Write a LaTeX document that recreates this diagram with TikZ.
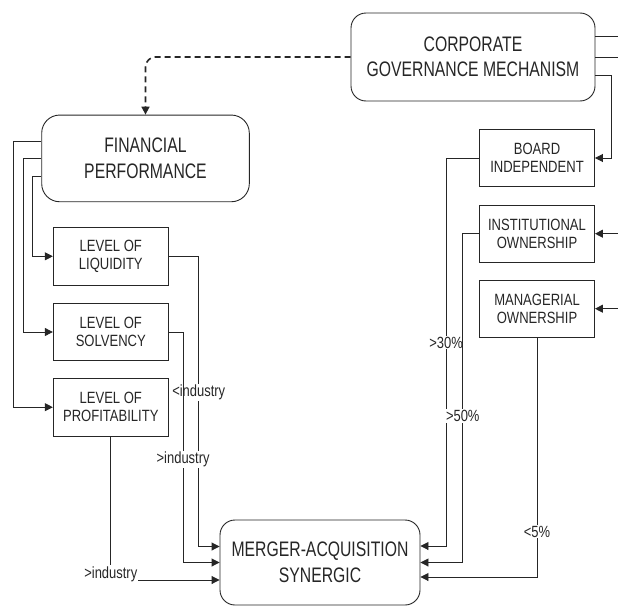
\documentclass[tikz,border=0pt]{standalone}
\usepackage{fontspec}
\setmainfont{Liberation Sans}[FakeStretch=0.8]
\newfontfamily\widefont{Liberation Sans}[FakeStretch=0.75]
\usetikzlibrary{arrows.meta}

\begin{document}
\begin{tikzpicture}[x=1pt, y=-1pt, color=black!85, line width=0.9pt, >={Triangle[length=8pt,width=8pt]}]
    \tikzstyle{bigbox} = [rectangle, draw, rounded corners=15pt, align=center, font=\widefont\fontsize{21}{25.5}\selectfont, minimum height=88pt, inner sep=2pt]
    \tikzstyle{smallbox} = [rectangle, draw, align=center, font=\fontsize{16.3}{18}\selectfont, minimum width=115pt, minimum height=57.5pt, inner sep=2pt]
    \tikzstyle{cond} = [fill=white, inner sep=1pt, font=\fontsize{16.2}{17}\selectfont]

    \useasboundingbox (0,0) rectangle (618,605);
    \clip (0,0) rectangle (618,605);

    % main blocks
    \node[bigbox, minimum width=244pt] (corp) at (473,57) {CORPORATE\\GOVERNANCE MECHANISM};
    \node[bigbox, minimum width=207.6pt, minimum height=86.7pt, rounded corners=18pt] (fin) at (145.5,158.4) {FINANCIAL\\PERFORMANCE};
    \node[bigbox, minimum width=200pt, minimum height=85pt] (msyn) at (320,562.5) {MERGER-ACQUISITION\\SYNERGIC};

    % financial indicators
    \node[smallbox] (liq) at (110.8,256.3) {LEVEL OF\\LIQUIDITY};
    \node[smallbox] (solv) at (110.8,332) {LEVEL OF\\SOLVENCY};
    \node[smallbox] (prof) at (110.8,407.2) {LEVEL OF\\PROFITABILITY};

    % governance indicators
    \node[smallbox] (board) at (537,158) {BOARD\\INDEPENDENT};
    \node[smallbox] (inst) at (537,233.7) {INSTITUTIONAL\\OWNERSHIP};
    \node[smallbox] (mgr) at (537,308.7) {MANAGERIAL\\OWNERSHIP};

    % lines leaving the picture
    \coordinate (outA) at (630,36.7);
    \coordinate (outB) at (630,57);
    \coordinate (inI) at (630,233.7);
    \coordinate (inM) at (630,308.7);

    \draw ([yshift=20.3pt]corp.east) -- (outA);
    \draw (corp.east) -- (outB);
    \draw[->] ([yshift=-18pt]corp.east) -- ++(16,0) |- (board.east);
    \draw[->] (inI) -- (inst.east);
    \draw[->] (inM) -- (mgr.east);

    \draw[->, line width=1.6pt, dash pattern=on 6pt off 4pt, rounded corners=10pt] (corp.west) -| (fin.north);

    % financial performance to indicators
    \draw[->] ([yshift=16.7pt]fin.west) -- ++(-27.7,0) |- (prof.west);
    \draw[->] (fin.west) -- ++(-17.7,0) |- (solv.west);
    \draw[->] ([yshift=-17.6pt]fin.west) -- ++(-9,0) |- (liq.west);

    % indicators to synergy
    \draw[->] (liq.east) -- ++(30,0) |- node[cond, pos=0.235] {<industry} ([yshift=16pt]msyn.west);
    \draw[->] (solv.east) -- ++(14.4,0) |- node[cond, pos=0.276] {>industry} (msyn.west);
    \draw[->] (prof.south) |- node[cond, pos=0.5, yshift=6pt] {>industry} ([yshift=-17.5pt]msyn.west);

    \draw[->] (board.west) -- ++(-33,0) |- node[cond, pos=0.238] {>30\%} ([yshift=16.5pt]msyn.east);
    \draw[->] (inst.west) -- ++(-16.3,0) |- node[cond, pos=0.277] {>50\%} (msyn.east);
    \draw[->] (mgr.south) |- node[cond, pos=0.405] {<5\%} ([yshift=-14.5pt]msyn.east);
\end{tikzpicture}
\end{document}
